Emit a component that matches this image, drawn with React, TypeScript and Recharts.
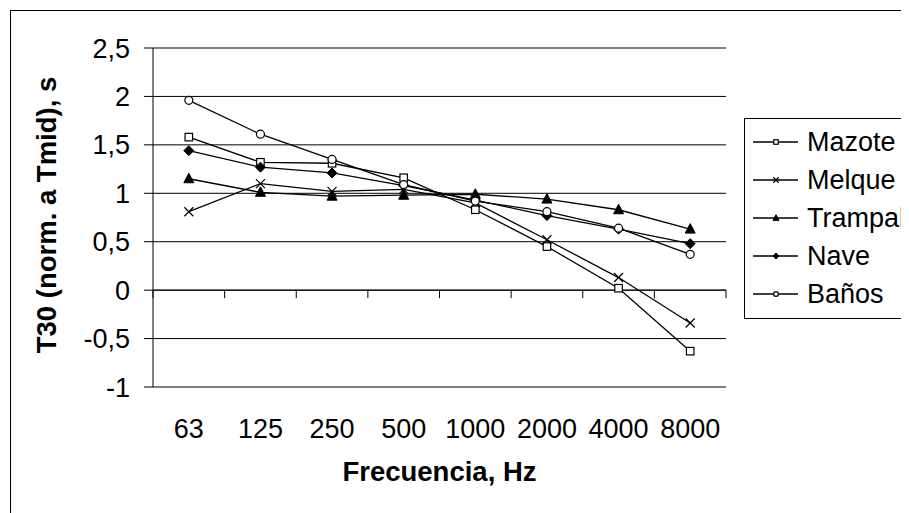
import React from 'react';
import { LineChart, Line, XAxis, YAxis, CartesianGrid, ReferenceLine } from 'recharts';

const categories = ['63', '125', '250', '500', '1000', '2000', '4000', '8000'];
const mazote = [1.58, 1.32, 1.31, 1.16, 0.83, 0.45, 0.02, -0.63];
const melque = [0.81, 1.1, 1.02, 1.04, 0.9, 0.52, 0.13, -0.34];
const trampal = [1.15, 1.01, 0.97, 0.98, 0.99, 0.94, 0.83, 0.63];
const nave = [1.44, 1.27, 1.21, 1.08, 0.93, 0.77, 0.63, 0.48];
const banos = [1.96, 1.61, 1.35, 1.09, 0.92, 0.81, 0.64, 0.37];
const yTicks = [-1, -0.5, 0, 0.5, 1, 1.5, 2, 2.5];
const seriesNames = ['Mazote', 'Melque', 'Trampal', 'Nave', 'Baños'];
const markerKinds = ['square', 'x', 'triangle', 'diamond', 'circle'];

const data = categories.map((c, i) => ({
  freq: c,
  Mazote: mazote[i],
  Melque: melque[i],
  Trampal: trampal[i],
  Nave: nave[i],
  'Baños': banos[i],
}));

const FONT = '"Liberation Sans", Arial, sans-serif';
const W = 901;
const H = 505;
const MARGIN = { top: 40, right: 183, bottom: 96, left: 0 };
const Y_AXIS_W = 145;
const X_AXIS_H = 30;
const PLOT_LEFT = MARGIN.left + Y_AXIS_W;
const PLOT_RIGHT = W - MARGIN.right;
const PLOT_TOP = MARGIN.top;
const PLOT_BOTTOM = H - MARGIN.bottom - X_AXIS_H;
const Y_MIN = -1;
const Y_MAX = 2.5;
const BAND = (PLOT_RIGHT - PLOT_LEFT) / categories.length;
const Y_ZERO = PLOT_TOP + ((Y_MAX - 0) / (Y_MAX - Y_MIN)) * (PLOT_BOTTOM - PLOT_TOP);

function Marker({ kind, cx, cy, s = 1 }: { kind: string; cx: number; cy: number; s?: number }) {
  if (cx == null || cy == null) return null;
  switch (kind) {
    case 'square':
      return <rect x={cx - 3.75 * s} y={cy - 3.75 * s} width={7.5 * s} height={7.5 * s} fill="#fff" stroke="#000" strokeWidth={1.2} />;
    case 'x':
      return (
        <g stroke="#000" strokeWidth={1.3}>
          <line x1={cx - 4.5 * s} y1={cy - 4.5 * s} x2={cx + 4.5 * s} y2={cy + 4.5 * s} />
          <line x1={cx - 4.5 * s} y1={cy + 4.5 * s} x2={cx + 4.5 * s} y2={cy - 4.5 * s} />
        </g>
      );
    case 'triangle':
      return <polygon points={`${cx},${cy - 5.5 * s} ${cx - 5 * s},${cy + 4 * s} ${cx + 5 * s},${cy + 4 * s}`} fill="#000" stroke="#000" />;
    case 'diamond':
      return <polygon points={`${cx},${cy - 5 * s} ${cx + 5 * s},${cy} ${cx},${cy + 5 * s} ${cx - 5 * s},${cy}`} fill="#000" stroke="#000" />;
    case 'circle':
    default:
      return <circle cx={cx} cy={cy} r={4 * s} fill="#fff" stroke="#000" strokeWidth={1.2} />;
  }
}

const makeDot = (kind: string) => (props: any) => (
  <g key={`${kind}-${props.index}`}>
    <Marker kind={kind} cx={props.cx} cy={props.cy} />
  </g>
);

const XTick = (props: any) => {
  const { x, payload, index } = props;
  return (
    <g>
      <line x1={x - BAND / 2} y1={Y_ZERO} x2={x - BAND / 2} y2={Y_ZERO + 8} stroke="#000" strokeWidth={1} />
      {index === categories.length - 1 && (
        <line x1={x + BAND / 2} y1={Y_ZERO} x2={x + BAND / 2} y2={Y_ZERO + 8} stroke="#000" strokeWidth={1} />
      )}
      <text x={x} y={PLOT_BOTTOM + 51} textAnchor="middle" fontSize={27} fontFamily={FONT} fill="#000">
        {payload.value}
      </text>
    </g>
  );
};

const YTick = (props: any) => {
  const { y, payload } = props;
  return (
    <text x={PLOT_LEFT - 23} y={y} dy={9.5} textAnchor="end" fontSize={27} fontFamily={FONT} fill="#000">
      {String(payload.value).replace('.', ',')}
    </text>
  );
};

function LegendBox() {
  return (
    <div
      style={{
        position: 'absolute',
        left: 736,
        top: 110,
        width: 180,
        height: 201,
        border: '1px solid #000',
        background: '#fff',
        boxSizing: 'border-box',
        fontFamily: FONT,
        fontSize: 27,
      }}
    >
      {seriesNames.map((name, i) => (
        <div
          key={name}
          style={{ position: 'absolute', left: 0, top: 5 + i * 37.9, height: 36, display: 'flex', alignItems: 'center', whiteSpace: 'nowrap' }}
        >
          <svg width={60} height={20} style={{ display: 'block' }}>
            <line x1={8} y1={10} x2={53} y2={10} stroke="#000" strokeWidth={1.3} />
            <Marker kind={markerKinds[i]} cx={31} cy={10} s={0.6} />
          </svg>
          <span style={{ marginLeft: 2, lineHeight: '36px' }}>{name}</span>
        </div>
      ))}
    </div>
  );
}

export default function App() {
  return (
    <div style={{ position: 'relative', width: W, height: H, overflow: 'hidden', background: '#fff' }}>
      <div
        style={{
          position: 'absolute',
          left: 2,
          top: 2,
          width: 960,
          height: 560,
          borderLeft: '1px solid #000',
          borderTop: '1px solid #000',
        }}
      />
      <div style={{ position: 'absolute', left: 0, top: 0 }}>
        <LineChart width={W} height={H} data={data} margin={MARGIN}>
          <CartesianGrid horizontal vertical={false} stroke="#000" strokeWidth={1} />
          <XAxis
            dataKey="freq"
            height={X_AXIS_H}
            axisLine={false}
            tickLine={false}
            tickSize={0}
            padding={{ left: BAND / 2, right: BAND / 2 }}
            tick={<XTick />}
            interval={0}
            label={{
              value: 'Frecuencia, Hz',
              content: () => (
                <text x={(PLOT_LEFT + PLOT_RIGHT) / 2} y={473} textAnchor="middle" fontSize={27.5} fontWeight="bold" fontFamily={FONT} fill="#000">
                  Frecuencia, Hz
                </text>
              ),
            }}
          />
          <YAxis
            domain={[Y_MIN, Y_MAX]}
            ticks={yTicks}
            width={Y_AXIS_W}
            interval={0}
            axisLine={{ stroke: '#000', strokeWidth: 1 }}
            tickLine={{ stroke: '#000', strokeWidth: 1 }}
            tickSize={9}
            tick={<YTick />}
            label={{
              value: 'T30 (norm. a Tmid), s',
              content: () => (
                <text x={48} y={207} transform="rotate(-90 48 207)" textAnchor="middle" fontSize={27.5} fontWeight="bold" fontFamily={FONT} fill="#000">
                  T30 (norm. a Tmid), s
                </text>
              ),
            }}
          />
          <YAxis yAxisId="right" orientation="right" width={0} tick={false} tickLine={false} axisLine={{ stroke: '#808080', strokeWidth: 1.5 }} />
          <ReferenceLine y={Y_MAX} stroke="#808080" strokeWidth={1.5} />
          <ReferenceLine y={Y_MIN} stroke="#808080" strokeWidth={1.5} />
          <ReferenceLine y={0} stroke="#000" strokeWidth={1} />
          {seriesNames.map((name, i) => (
            <Line
              key={name}
              type="linear"
              dataKey={name}
              stroke="#000"
              strokeWidth={1.3}
              dot={makeDot(markerKinds[i])}
              activeDot={false}
              isAnimationActive={false}
            />
          ))}
        </LineChart>
      </div>
      <LegendBox />
    </div>
  );
}
